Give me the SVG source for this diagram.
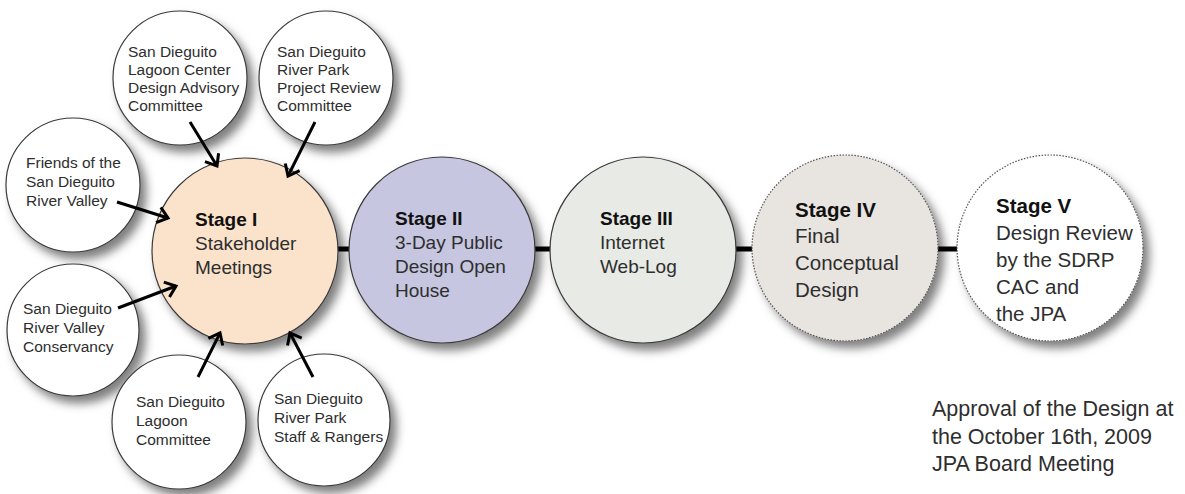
<svg xmlns="http://www.w3.org/2000/svg" width="1185" height="494" viewBox="0 0 1185 494">
  <style>
    .sat { fill: #ffffff; stroke: #3a3a3a; stroke-width: 1.2; }
    .stage { stroke: #3a3a3a; stroke-width: 1.2; }
    .dotted { stroke: #555555; stroke-width: 1.2; stroke-dasharray: 1.5 1.5; }
    .t { font-family: "Liberation Sans", Arial, sans-serif; fill: #2e2e2e; }
    .st { font-size: 15.5px; }
    .sg { font-size: 19px; }
    .sg2 { font-size: 20.5px; }
    .b { font-weight: bold; fill: #111111; }
    .link { stroke: #000000; stroke-width: 5; }
    .arrow { stroke: #000000; stroke-width: 3; fill: none; }
  </style>
  <defs>
    <filter id="shadow" x="-20%" y="-20%" width="160%" height="160%">
      <feDropShadow dx="6" dy="7" stdDeviation="5" flood-color="#000000" flood-opacity="0.5"/>
    </filter>
    <marker id="chev" viewBox="-14 -10 18 20" markerWidth="18" markerHeight="20" refX="0" refY="0" orient="auto" markerUnits="userSpaceOnUse">
      <path d="M -10 -8 L 0 0 L -10 8" fill="none" stroke="#000000" stroke-width="3"/>
    </marker>
  </defs>

  <rect width="1185" height="494" fill="#ffffff"/>

  <!-- stage-to-stage links -->
  <g id="connectors">
    <line class="link" x1="335" y1="249" x2="352" y2="249"/>
    <line class="link" x1="532" y1="249" x2="553" y2="249"/>
    <line class="link" x1="733" y1="249" x2="755" y2="249"/>
    <line class="link" x1="935" y1="249" x2="959" y2="249"/>
  </g>

  <!-- stages -->
  <g id="stage1">
    <circle class="stage" cx="245" cy="251" r="93" fill="#fbe2cb" filter="url(#shadow)"/>
    <text class="t sg"><tspan class="b" x="195" y="226">Stage I</tspan><tspan x="195" y="250">Stakeholder</tspan><tspan x="195" y="274">Meetings</tspan></text>
  </g>
  <g id="stage2">
    <circle class="stage" cx="442" cy="250" r="93" fill="#c6c6e0" filter="url(#shadow)"/>
    <text class="t sg"><tspan class="b" x="395" y="225">Stage II</tspan><tspan x="395" y="249">3-Day Public</tspan><tspan x="395" y="273">Design Open</tspan><tspan x="395" y="297">House</tspan></text>
  </g>
  <g id="stage3">
    <circle class="stage" cx="643" cy="250" r="93" fill="#e7eae5" filter="url(#shadow)"/>
    <text class="t sg"><tspan class="b" x="600" y="225">Stage III</tspan><tspan x="600" y="249">Internet</tspan><tspan x="600" y="273">Web-Log</tspan></text>
  </g>
  <g id="stage4">
    <circle class="dotted" cx="845" cy="248" r="93" fill="#e8e4e0" filter="url(#shadow)"/>
    <text class="t sg2"><tspan class="b" x="795" y="217">Stage IV</tspan><tspan x="795" y="243">Final</tspan><tspan x="795" y="270">Conceptual</tspan><tspan x="795" y="297">Design</tspan></text>
  </g>
  <g id="stage5">
    <circle class="dotted" cx="1050" cy="248" r="93" fill="#ffffff" filter="url(#shadow)"/>
    <text class="t sg2"><tspan class="b" x="996" y="213">Stage V</tspan><tspan x="996" y="240">Design Review</tspan><tspan x="996" y="267">by the SDRP</tspan><tspan x="996" y="294">CAC and</tspan><tspan x="996" y="321">the JPA</tspan></text>
  </g>

  <!-- stakeholder groups around Stage I -->
  <g id="lagoon-center-dac">
    <circle class="sat" cx="180" cy="78" r="67" filter="url(#shadow)"/>
    <text class="t st"><tspan x="128" y="57">San Dieguito</tspan><tspan x="128" y="75">Lagoon Center</tspan><tspan x="128" y="93">Design Advisory</tspan><tspan x="128" y="111">Committee</tspan></text>
  </g>
  <g id="river-park-prc">
    <circle class="sat" cx="326" cy="78" r="67" filter="url(#shadow)"/>
    <text class="t st"><tspan x="277" y="57">San Dieguito</tspan><tspan x="277" y="75">River Park</tspan><tspan x="277" y="93">Project Review</tspan><tspan x="277" y="111">Committee</tspan></text>
  </g>
  <g id="friends">
    <circle class="sat" cx="73" cy="185" r="67" filter="url(#shadow)"/>
    <text class="t st"><tspan x="26" y="168">Friends of the</tspan><tspan x="26" y="187">San Dieguito</tspan><tspan x="26" y="206">River Valley</tspan></text>
  </g>
  <g id="conservancy">
    <circle class="sat" cx="73" cy="330" r="66" filter="url(#shadow)"/>
    <text class="t st"><tspan x="23" y="314">San Dieguito</tspan><tspan x="23" y="333">River Valley</tspan><tspan x="23" y="352">Conservancy</tspan></text>
  </g>
  <g id="lagoon-committee">
    <circle class="sat" cx="179" cy="422" r="67" filter="url(#shadow)"/>
    <text class="t st"><tspan x="136" y="407">San Dieguito</tspan><tspan x="136" y="426">Lagoon</tspan><tspan x="136" y="445">Committee</tspan></text>
  </g>
  <g id="staff-rangers">
    <circle class="sat" cx="324" cy="420" r="66" filter="url(#shadow)"/>
    <text class="t st"><tspan x="274" y="404">San Dieguito</tspan><tspan x="274" y="423">River Park</tspan><tspan x="274" y="442">Staff &amp; Rangers</tspan></text>
  </g>

  <!-- arrows into Stage I -->
  <g id="arrows">
    <line class="arrow" x1="190" y1="122" x2="217" y2="166" marker-end="url(#chev)"/>
    <line class="arrow" x1="315" y1="122" x2="288" y2="176" marker-end="url(#chev)"/>
    <line class="arrow" x1="117" y1="202" x2="168" y2="218" marker-end="url(#chev)"/>
    <line class="arrow" x1="118" y1="308" x2="176" y2="286" marker-end="url(#chev)"/>
    <line class="arrow" x1="198" y1="377" x2="220" y2="333" marker-end="url(#chev)"/>
    <line class="arrow" x1="313" y1="377" x2="290" y2="333" marker-end="url(#chev)"/>
  </g>

  <text class="t" font-size="21.5"><tspan x="932" y="416">Approval of the Design at</tspan><tspan x="932" y="444">the October 16th, 2009</tspan><tspan x="932" y="471">JPA Board Meeting</tspan></text>
</svg>
